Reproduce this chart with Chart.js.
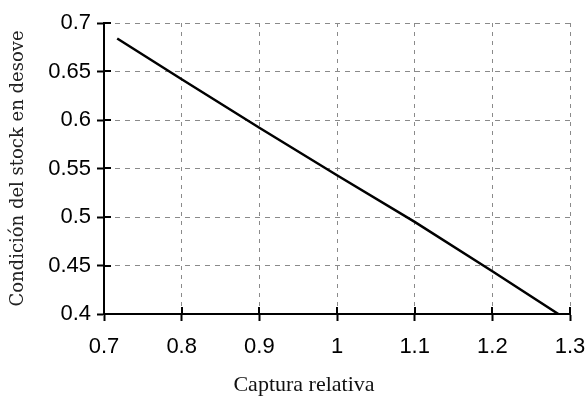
<!DOCTYPE html>
<html>
<head>
<meta charset="utf-8">
<script src="https://cdn.jsdelivr.net/npm/chart.js@4/dist/chart.umd.min.js"></script>
<style>
  html, body { margin: 0; padding: 0; background: #fff; }
  #wrap { width: 587px; height: 400px; position: relative; }
</style>
</head>
<body>
<div id="wrap"><canvas id="c"></canvas></div>
<script>
// Data
const captura   = [0.717, 0.8, 0.9, 1.0, 1.1, 1.2, 1.285];
const condicion = [0.684, 0.642, 0.592, 0.543, 0.495, 0.444, 0.400];

const xTickValues = [0.7, 0.8, 0.9, 1.0, 1.1, 1.2, 1.3];
const xTickLabels = ['0.7', '0.8', '0.9', '1', '1.1', '1.2', '1.3'];
const yTickValues = [0.4, 0.45, 0.5, 0.55, 0.6, 0.65, 0.7];
const yTickLabels = ['0.4', '0.45', '0.5', '0.55', '0.6', '0.65', '0.7'];

const xTitle = 'Captura relativa';
const yTitle = 'Condición del stock en desove';

function labelFor(values, labels, v) {
  for (let i = 0; i < values.length; i++) {
    if (Math.abs(values[i] - v) < 1e-6) return labels[i];
  }
  return '';
}

// Draw inner half of the cross-shaped tick marks and the x-axis title
const extras = {
  id: 'extras',
  afterDraw(chart) {
    const ctx = chart.ctx;
    const xs = chart.scales.x, ys = chart.scales.y;
    const ca = chart.chartArea;
    ctx.save();
    ctx.strokeStyle = '#000';
    ctx.lineWidth = 2;
    ctx.beginPath();
    xTickValues.forEach(v => {
      const px = Math.round(xs.getPixelForValue(v));
      ctx.moveTo(px, ca.bottom);
      ctx.lineTo(px, ca.bottom - 7);
    });
    yTickValues.forEach(v => {
      const py = Math.round(ys.getPixelForValue(v));
      ctx.moveTo(ca.left, py);
      ctx.lineTo(ca.left + 7, py);
    });
    ctx.stroke();
    // x-axis title
    ctx.fillStyle = '#111';
    ctx.font = '22px "Liberation Serif", "Times New Roman", serif';
    ctx.textAlign = 'center';
    ctx.textBaseline = 'alphabetic';
    ctx.fillText(xTitle, ca.left + 200, ca.bottom + 77);
    ctx.restore();
  }
};

new Chart(document.getElementById('c'), {
  type: 'line',
  data: {
    datasets: [{
      data: captura.map((x, i) => ({ x: x, y: condicion[i] })),
      borderColor: '#000',
      borderWidth: 2.5,
      pointRadius: 0,
      tension: 0,
      fill: false
    }]
  },
  options: {
    responsive: true,
    maintainAspectRatio: false,
    animation: false,
    layout: { padding: { top: 23, right: 17, bottom: 0, left: 0 } },
    plugins: { legend: { display: false }, tooltip: { enabled: false } },
    scales: {
      x: {
        type: 'linear',
        min: 0.7, max: 1.3,
        afterBuildTicks(scale) { scale.ticks = xTickValues.map(v => ({ value: v })); },
        afterFit(scale) { scale.height = 86; scale.paddingLeft = 0; scale.paddingRight = 0; },
        ticks: {
          color: '#000',
          padding: 13,
          maxRotation: 0,
          font: { family: '"Liberation Sans", Arial, sans-serif', size: 22 },
          callback: v => labelFor(xTickValues, xTickLabels, v)
        },
        grid: {
          color: '#8a8a8a',
          lineWidth: 1,
          tickColor: '#000',
          tickWidth: 2,
          tickLength: 7,
          tickBorderDash: []
        },
        border: { display: true, color: '#000', width: 2, dash: [4, 5] }
      },
      y: {
        type: 'linear',
        min: 0.4, max: 0.7,
        afterBuildTicks(scale) { scale.ticks = yTickValues.map(v => ({ value: v })); },
        afterFit(scale) { scale.width = 104; scale.paddingTop = 0; scale.paddingBottom = 0; },
        ticks: {
          color: '#000',
          padding: 6,
          font: { family: '"Liberation Sans", Arial, sans-serif', size: 22 },
          callback: v => labelFor(yTickValues, yTickLabels, v)
        },
        grid: {
          color: '#8a8a8a',
          lineWidth: 1,
          tickColor: '#000',
          tickWidth: 2,
          tickLength: 7,
          tickBorderDash: []
        },
        border: { display: true, color: '#000', width: 2, dash: [5, 5] },
        title: {
          display: true,
          text: yTitle,
          color: '#222',
          padding: { top: 8, bottom: 0 },
          font: { family: '"DejaVu Serif", serif', size: 18, weight: 'normal' }
        }
      }
    }
  },
  plugins: [extras]
});
</script>
</body>
</html>
